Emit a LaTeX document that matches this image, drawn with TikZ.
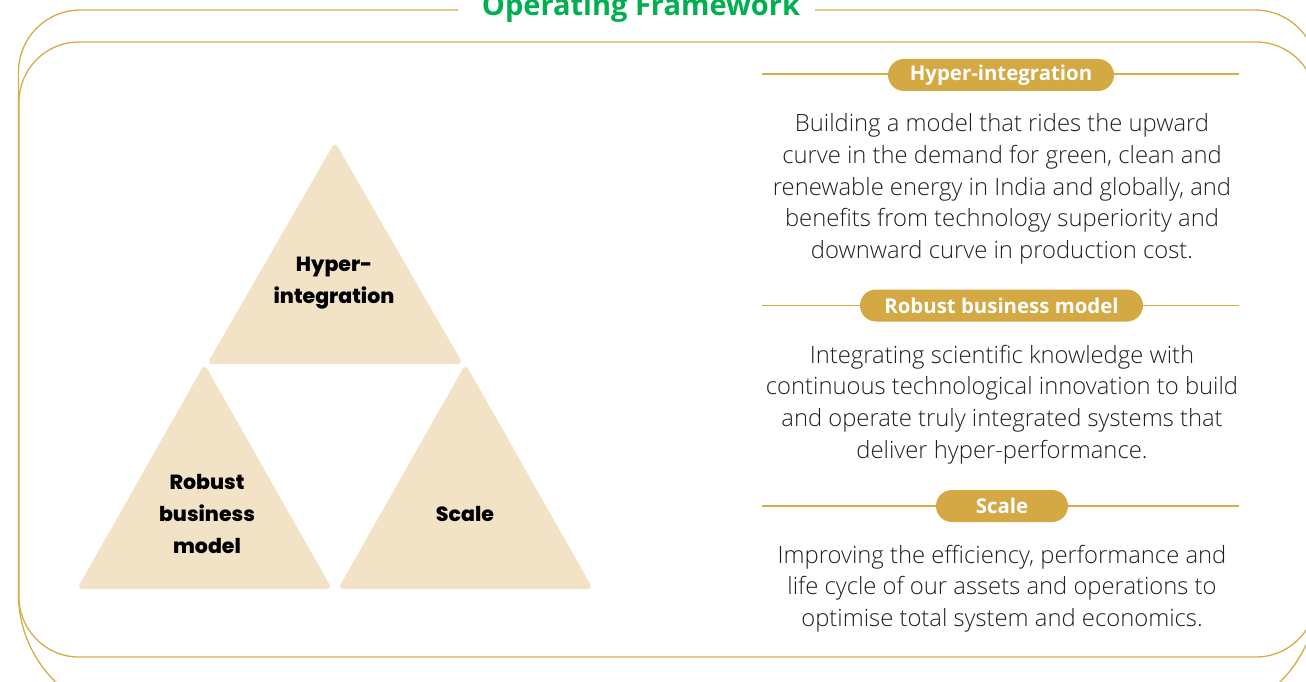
\documentclass[tikz,border=0pt]{standalone}
\usepackage{fontspec}
\setmainfont{Open Sans}
\newfontfamily\bodyfont{Open Sans Light}
\newfontfamily\trifont{Poppins ExtraBold}
\definecolor{gold}{RGB}{212,168,67}
\definecolor{goldline}{RGB}{214,172,72}
\definecolor{trifill}{RGB}{242,227,198}
\definecolor{titlegreen}{RGB}{0,176,80}
\definecolor{bodytext}{RGB}{35,31,32}
\begin{document}
\begin{tikzpicture}[x=1pt,y=-1pt,
  frame/.style={draw=goldline,line width=1.3pt},
  trishape/.style={fill=trifill,rounded corners=5pt},
  trilabel/.style={font=\trifont\fontsize{20.5}{32}\selectfont,align=center,text=black},
  pill/.style={fill=gold,rounded corners=16pt,minimum height=32pt,inner sep=0pt,text=white,font=\bfseries\fontsize{20.4}{24}\selectfont},
  rulerline/.style={draw=goldline,line width=1.2pt},
  body/.style={font=\bodyfont\fontsize{23.8}{31.75}\selectfont,align=center,text=bodytext,inner sep=0pt}]
\useasboundingbox (0,0) rectangle (1306,682);
\begin{scope}
\clip (0,0) rectangle (1306,682);
% outer frame
\draw[frame] (815,10) -- (1255,10) arc[start angle=270,end angle=360,radius=62]
  -- (1317,594) arc[start angle=0,end angle=90,radius=123]
  -- (141.5,717) arc[start angle=90,end angle=180,radius=123]
  -- (18.5,72) arc[start angle=180,end angle=270,radius=62] -- (458,10);
% inner frame
\draw[frame,rounded corners=60pt] (19,42) rectangle (1316,657);
\end{scope}
\node[font=\bfseries\fontsize{29}{34}\selectfont,text=titlegreen,anchor=base] (title) at (641,16) {Operating Framework};
% triangles
\path[trishape] (335,142) -- (463,364) -- (207,364) -- cycle;
\path[trishape] (204.5,364) -- (332,589) -- (77,589) -- cycle;
\path[trishape] (465.5,364) -- (593,589) -- (338,589) -- cycle;
\node[trilabel] (t1) at (334,283) {Hyper-\\integration};
\node[trilabel] (t2) at (207,514) {Robust\\business\\model};
\node[trilabel] (t3) at (465,514) {Scale};
% right column
\draw[rulerline] (762,74) -- (1239,74);
\node[pill,minimum width=226pt] (p1) at (1001,75) {Hyper-integration};
\node[body] (b1) at (1002,189) {Building a model that rides the upward\\curve in the demand for green, clean and\\renewable energy in India and globally, and\\benefits from technology superiority and\\downward curve in production cost.};
\draw[rulerline] (762,305.5) -- (1239,305.5);
\node[pill,minimum width=283pt] (p2) at (1001.5,305.5) {Robust business model};
\node[body] (b2) at (1002,404.5) {Integrating scientific knowledge with\\continuous technological innovation to build\\and operate truly integrated systems that\\deliver hyper-performance.};
\draw[rulerline] (762,506) -- (1239,506);
\node[pill,minimum width=132pt] (p3) at (1002,506) {Scale};
\node[body] (b3) at (1002,588.5) {Improving the efficiency, performance and\\life cycle of our assets and operations to\\optimise total system and economics.};
\end{tikzpicture}
\end{document}
